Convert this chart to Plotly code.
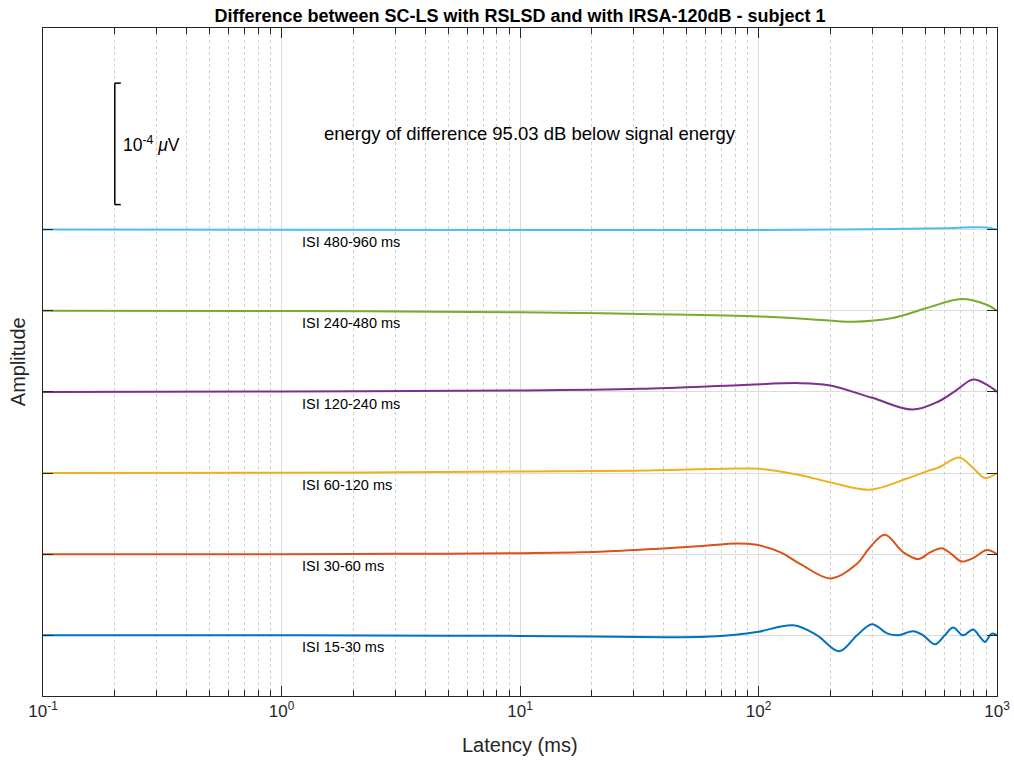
import plotly.graph_objects as go
import numpy as np

# ---------------- data (amplitudes in pV = 1e-6 µV, deviation from each trace's baseline) -------------
lat_15_30 = [0.1, 1, 5, 10, 20, 40, 60, 80, 100, 140, 176, 218, 259, 299, 346, 385, 445, 490, 550, 604,
             655, 720, 794, 849, 891, 940, 962, 1000]
amp_15_30 = [0, 0, -0.3, -0.5, -1.1, -1.6, -1.2, 0.4, 2.9, 8.2, 0, -13.2, 0, 9.1, 1.6, 0, 3.3, 0, -7.4, 0,
             6.3, 0, 4.7, -1.4, -5.5, 0.6, 1.4, 0]

lat_30_60 = [0.1, 1, 3, 10, 21.6, 39.8, 60, 81, 98, 123, 150, 201, 258, 293, 339, 405, 468, 524, 586, 645,
             710, 800, 906, 1000]
amp_30_60 = [0, 0, 0.25, 0.8, 1.9, 4.7, 7.0, 8.8, 7.7, 1.6, -8.2, -20.0, -8.2, 5.5, 15.9, 1.4, -4.1, 1.4,
             4.9, 0, -6.0, -2.9, 3.5, 0]

lat_60_120 = [0.1, 1, 10, 30, 81, 101, 149, 200, 293, 417, 508, 571, 695, 794, 891, 1000]
amp_60_120 = [0, 0.25, 1.2, 1.9, 3.7, 3.5, -1.6, -7.7, -13.7, -4.7, 1.4, 4.7, 12.8, 4.1, -4.1, 0]

lat_120_240 = [0.1, 1, 10, 31.8, 82.8, 149, 197, 300, 442, 571, 681, 794, 906, 1000]
amp_120_240 = [0, 0.25, 1.1, 2.5, 5.5, 7.2, 5.5, -4.9, -14.6, -7.7, 1.9, 10.1, 6.0, 0]

lat_240_480 = [0.1, 1, 10, 31.8, 101, 197, 249, 365, 508, 708, 906, 1000]
amp_240_480 = [0, -0.25, -1.2, -2.7, -4.7, -8.0, -9.1, -6.0, 2.2, 9.6, 4.9, 0]

lat_480_960 = [0.1, 10, 100, 300, 600, 794, 906, 1000]
amp_480_960 = [0, -0.3, -0.3, 0.2, 1.2, 1.9, 1.7, 0]

series_labels = ["ISI 15-30 ms", "ISI 30-60 ms", "ISI 60-120 ms",
                 "ISI 120-240 ms", "ISI 240-480 ms", "ISI 480-960 ms"]
series_lat = [lat_15_30, lat_30_60, lat_60_120, lat_120_240, lat_240_480, lat_480_960]
series_amp = [amp_15_30, amp_30_60, amp_60_120, amp_120_240, amp_240_480, amp_480_960]

x_tick_vals = [0.1, 1, 10, 100, 1000]
x_tick_text = ["10<sup>-1</sup>", "10<sup>0</sup>", "10<sup>1</sup>", "10<sup>2</sup>", "10<sup>3</sup>"]

scale_bar_pV = 100  # 1e-4 µV
title_text = "Difference between SC-LS with RSLSD and with IRSA-120dB - subject 1"
energy_text = "energy of difference 95.03 dB below signal energy"

# ---------------- style -------------
colors = ["#0072BD", "#D95319", "#EDB120", "#7E2F8E", "#77AC30", "#4DBEEE"]
OFFSET_STEP = 66.8
FONT = "Liberation Sans, Arial, Helvetica, sans-serif"
AX = "#262626"
W, H = 1014, 760

fig = go.Figure()
offsets = [k * OFFSET_STEP for k in range(len(series_labels))]

for lat, amp, col, off in zip(series_lat, series_amp, colors, offsets):
    fig.add_trace(go.Scatter(
        x=lat, y=[a + off for a in amp], mode="lines",
        line=dict(color=col, width=2, shape="spline", smoothing=1.0),
        showlegend=False, hoverinfo="skip"))

for lab, off in zip(series_labels, offsets):
    fig.add_annotation(x=np.log10(1.2), y=off, xref="x", yref="y", text=lab,
                       showarrow=False, xanchor="left", yanchor="middle", yshift=-12,
                       font=dict(family=FONT, size=14.5, color="#000000"))

# scale bar
bar_x = 0.2
bar_top = 454.6
bar_bot = bar_top - scale_bar_pV
fig.add_shape(type="line", xref="x", yref="y", xsizemode="pixel", xanchor=bar_x, x0=0, x1=0,
              y0=bar_bot, y1=bar_top, line=dict(color="black", width=1.5))
for yy in (bar_bot, bar_top):
    fig.add_shape(type="line", xref="x", yref="y", xsizemode="pixel", xanchor=bar_x, x0=-6, x1=6,
                  y0=yy, y1=yy, line=dict(color="black", width=1.5))
fig.add_annotation(x=0.082, y=(bar_top + bar_bot) / 2, xref="paper", yref="y",
                   text="10<sup>-4</sup> <i>μ</i>V", showarrow=False, xanchor="left", yanchor="middle",
                   font=dict(family=FONT, size=17.5, color="#000000"))

fig.add_annotation(x=0.51, y=0.842, xref="paper", yref="paper", text=energy_text, showarrow=False,
                   xanchor="center", yanchor="middle", font=dict(family=FONT, size=18.5, color="#000000"))

# axis titles
fig.add_annotation(x=0.5, y=-0.0738, xref="paper", yref="paper", text="Latency (ms)", showarrow=False,
                   xanchor="center", yanchor="middle", font=dict(family=FONT, size=20, color=AX))
fig.add_annotation(x=-0.026, y=0.5, xref="paper", yref="paper", text="Amplitude", showarrow=False,
                   textangle=-90, xanchor="center", yanchor="middle", font=dict(family=FONT, size=20, color=AX))

minor_vals = [m * 10.0 ** e for e in range(-1, 3) for m in range(2, 10)]

fig.update_layout(
    width=W, height=H,
    margin=dict(l=43, r=17, t=28, b=64, autoexpand=False),
    paper_bgcolor="white", plot_bgcolor="white",
    title=dict(text="<b>" + title_text + "</b>", x=0.5, xref="paper", xanchor="center",
               y=1 - 15.5 / H, yref="container", yanchor="middle",
               font=dict(family=FONT, size=18, color="#000000")),
    font=dict(family=FONT, color=AX),
    xaxis=dict(type="log", range=[-1, 3], tickvals=x_tick_vals, ticktext=x_tick_text,
               ticks="inside", ticklen=10, tickwidth=1, tickcolor=AX, automargin=False,
               showline=True, linecolor=AX, linewidth=1, mirror="allticks",
               showgrid=True, gridcolor="#dcdcdc", gridwidth=1, zeroline=False,
               tickfont=dict(family=FONT, size=17, color=AX), ticklabeloverflow="allow",
               minor=dict(tickvals=minor_vals, ticks="inside", ticklen=6, tickcolor=AX,
                          showgrid=True, gridcolor="#cfcfcf", griddash="dot", gridwidth=1)),
    yaxis=dict(range=[-50, 500], tickvals=offsets, showticklabels=False, automargin=False,
               ticks="inside", ticklen=10, tickwidth=1, tickcolor=AX,
               showline=True, linecolor=AX, linewidth=1, mirror="allticks",
               showgrid=True, gridcolor="#dcdcdc", gridwidth=1, zeroline=False),
)

fig.write_html("out.html", config={"displayModeBar": False},
               post_script="document.body.style.margin='0px';document.body.style.overflow='hidden';")
